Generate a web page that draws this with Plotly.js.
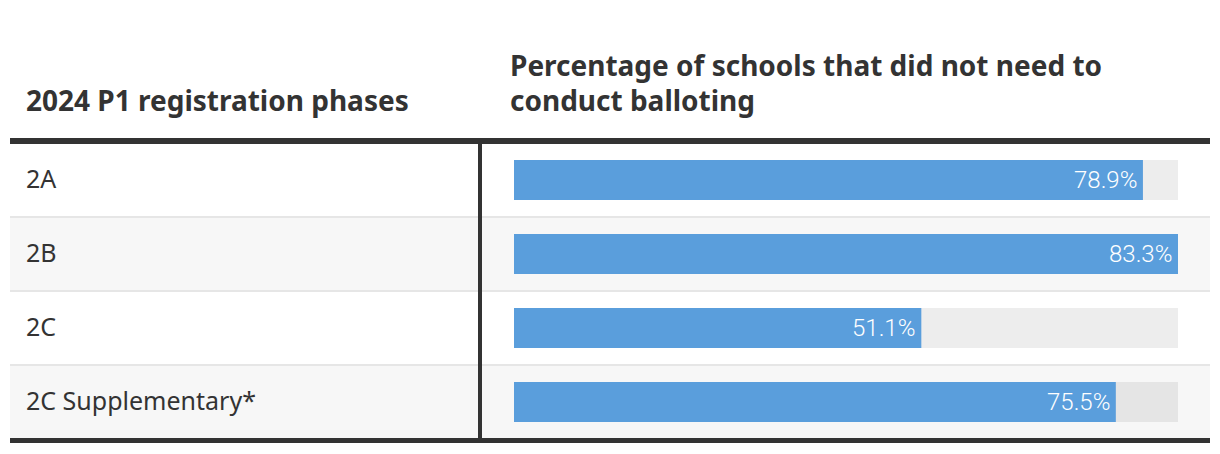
<!DOCTYPE html>
<html>
<head>
<meta charset="utf-8">
<script src="https://cdn.plot.ly/plotly-3.0.1.min.js"></script>
<style>html,body{margin:0;padding:0;background:#fff;}#chart{width:1220px;height:454px;}</style>
</head>
<body>
<div id="chart"></div>
<script>
// ---- data ----
const phases = ["2A", "2B", "2C", "2C Supplementary*"];
const pctNoBallot = [78.9, 83.3, 51.1, 75.5];
const colHeaderLeft = "2024 P1 registration phases";
const colHeaderRightLines = ["Percentage of schools that did not need to", "conduct balloting"];

// ---- layout helpers ----
const W = 1220, H = 454;
const px = p => p / W;
const py = p => 1 - p / H;
const rowTop0 = 144, rowH = 72, rowStep = 74;
const maxVal = Math.max(...pctNoBallot);
const idx = phases.map((_, i) => i);

const rowCenter0 = rowTop0 + rowH / 2; // 180
const yLo = (H - rowCenter0) / rowStep;   // bottom in data units
const yHi = -rowCenter0 / rowStep;        // top in data units

const shapes = [];
phases.forEach((_, i) => {
  if (i % 2 === 1) {
    shapes.push({type: "rect", xref: "paper", yref: "paper", layer: "below",
      x0: px(10), x1: px(1210), y0: py(rowTop0 + rowStep * i), y1: py(rowTop0 + rowStep * i + rowH),
      fillcolor: "#f7f7f7", line: {width: 0}});
  }
  if (i < phases.length - 1) {
    shapes.push({type: "rect", xref: "paper", yref: "paper", layer: "below",
      x0: px(10), x1: px(1210), y0: py(rowTop0 + rowStep * i + rowH), y1: py(rowTop0 + rowStep * i + rowStep),
      fillcolor: "#e6e6e6", line: {width: 0}});
  }
});
shapes.push({type: "rect", xref: "paper", yref: "paper", x0: px(10), x1: px(1210), y0: py(138), y1: py(144), fillcolor: "#333333", line: {width: 0}});
shapes.push({type: "rect", xref: "paper", yref: "paper", x0: px(10), x1: px(1210), y0: py(438), y1: py(443), fillcolor: "#333333", line: {width: 0}});
shapes.push({type: "rect", xref: "paper", yref: "paper", x0: px(478), x1: px(482), y0: py(144), y1: py(438), fillcolor: "#333333", line: {width: 0}});

const headFont = {family: "Noto Sans, sans-serif", size: 28, color: "#333333", weight: 700};
const annotations = [
  {xref: "paper", yref: "paper", x: px(24), y: py(100), xanchor: "left", yanchor: "middle",
   text: colHeaderLeft, showarrow: false, font: headFont},
  {xref: "paper", yref: "paper", x: px(508), y: py(65), xanchor: "left", yanchor: "middle",
   text: colHeaderRightLines[0], showarrow: false, font: headFont},
  {xref: "paper", yref: "paper", x: px(508), y: py(100), xanchor: "left", yanchor: "middle",
   text: colHeaderRightLines[1], showarrow: false, font: headFont}
];
phases.forEach((p, i) => {
  annotations.push({xref: "paper", yref: "y", x: px(24), y: i, xanchor: "left", yanchor: "middle",
    yshift: 2, text: p, showarrow: false, font: {family: "Noto Sans, sans-serif", size: 25, color: "#333333"}});
  annotations.push({xref: "x", yref: "y", x: pctNoBallot[i], y: i, xanchor: "right", yanchor: "middle",
    xshift: -4, text: pctNoBallot[i].toFixed(1) + "%", showarrow: false,
    font: {family: "Roboto, sans-serif", size: 24, color: "#ffffff", weight: 300}});
});

const bw = 40 / rowStep;
const traces = [
  {type: "bar", orientation: "h", y: idx, x: phases.map(() => maxVal), width: bw,
   marker: {color: "rgba(0,0,0,0.07)"}, hoverinfo: "skip", showlegend: false},
  {type: "bar", orientation: "h", y: idx, x: pctNoBallot, width: bw,
   marker: {color: "#5a9edc"}, hoverinfo: "skip", showlegend: false}
];

const layout = {
  width: W, height: H,
  margin: {l: 0, r: 0, t: 0, b: 0},
  paper_bgcolor: "#ffffff", plot_bgcolor: "rgba(0,0,0,0)",
  barmode: "overlay",
  showlegend: false,
  xaxis: {domain: [px(514), px(1178)], range: [0, maxVal], visible: false, fixedrange: true},
  yaxis: {domain: [0, 1], range: [yLo, yHi], visible: false, fixedrange: true},
  shapes, annotations
};

Plotly.newPlot("chart", traces, layout, {displayModeBar: false, staticPlot: true});
</script>
</body>
</html>
